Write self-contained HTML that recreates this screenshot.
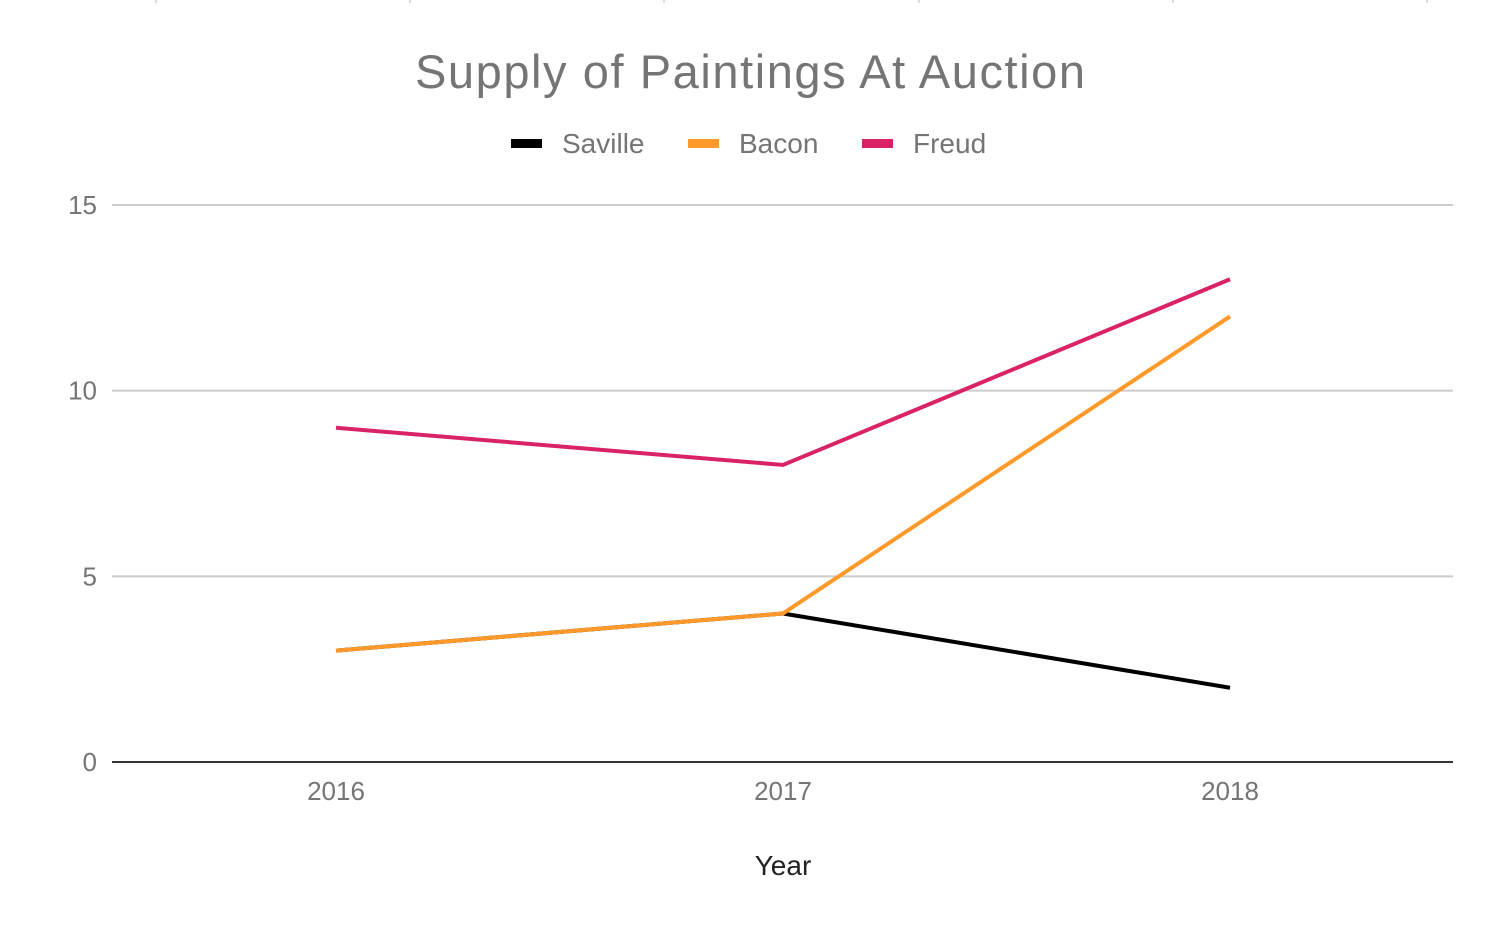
<!DOCTYPE html>
<html><head><meta charset="utf-8"><style>
body{margin:0;background:#fff;}
svg{display:block;font-family:"Liberation Sans",sans-serif;}
</style></head><body>
<svg id="chart" width="1500" height="928" viewBox="0 0 1500 928" xmlns="http://www.w3.org/2000/svg">
<g id="topticks"></g>
<text x="750" y="88" text-anchor="middle" font-size="47" fill="#757575" textLength="670">Supply of Paintings At Auction</text>
<g font-size="28" fill="#757575">
<g><rect x="511" y="139" width="31" height="9" fill="#000"/><text x="562" y="153">Saville</text></g>
<g><rect x="688" y="139" width="31" height="9" fill="#ff9a2a"/><text x="739" y="153">Bacon</text></g>
<g><rect x="862" y="139" width="31" height="9" fill="#da2366"/><text x="913" y="153">Freud</text></g>
</g>
<g id="grid"></g>
<g id="yticks" font-size="26" fill="#757575"></g>
<g id="xticks" font-size="26" fill="#757575"></g>
<g id="series"></g>
<text x="783" y="875" text-anchor="middle" font-size="28" fill="#222">Year</text>
</svg>
<script>
const categories = ["2016","2017","2018"];
const saville = [3,4,2];
const bacon = [3,4,12];
const freud = [9,8,13];
const yTicks = [0,5,10,15];
const NS="http://www.w3.org/2000/svg";
const left=112,right=1453,y0=762,y15=205;
const xScale=i=>336+i*447;
const yScale=v=>y0-(v/15)*(y0-y15);
function mk(tag,attrs,parent){const e=document.createElementNS(NS,tag);for(const k in attrs)e.setAttribute(k,attrs[k]);parent.appendChild(e);return e;}
const topG=document.getElementById('topticks');
[156,410,664,919,1173,1427].forEach(x=>{const t=mk('rect',{x:x-1,y:0,width:2,height:3,fill:'#ddd'},topG);

});
const grid=document.getElementById('grid'),yt=document.getElementById('yticks');
yTicks.forEach(v=>{const y=yScale(v);
const l=mk('line',{x1:left,x2:right,y1:y,y2:y,stroke:v===0?'#333':'#ccc','stroke-width':2},grid);


const t=mk('text',{x:97,y:y+9,'text-anchor':'end'},yt);t.textContent=v;

});
const xt=document.getElementById('xticks');
categories.forEach((c,i)=>{const t=mk('text',{x:xScale(i),y:800,'text-anchor':'middle'},xt);t.textContent=c;

});
const ser=document.getElementById('series');
[[saville,'#000','saville'],[freud,'#da2366','freud'],[bacon,'#ff9a2a','bacon']].forEach(([d,c,n])=>{
const p=mk('polyline',{points:d.map((v,i)=>xScale(i)+','+yScale(v)).join(' '),fill:'none',stroke:c,'stroke-width':4,'stroke-linejoin':'round'},ser);

});
</script>
</body></html>
